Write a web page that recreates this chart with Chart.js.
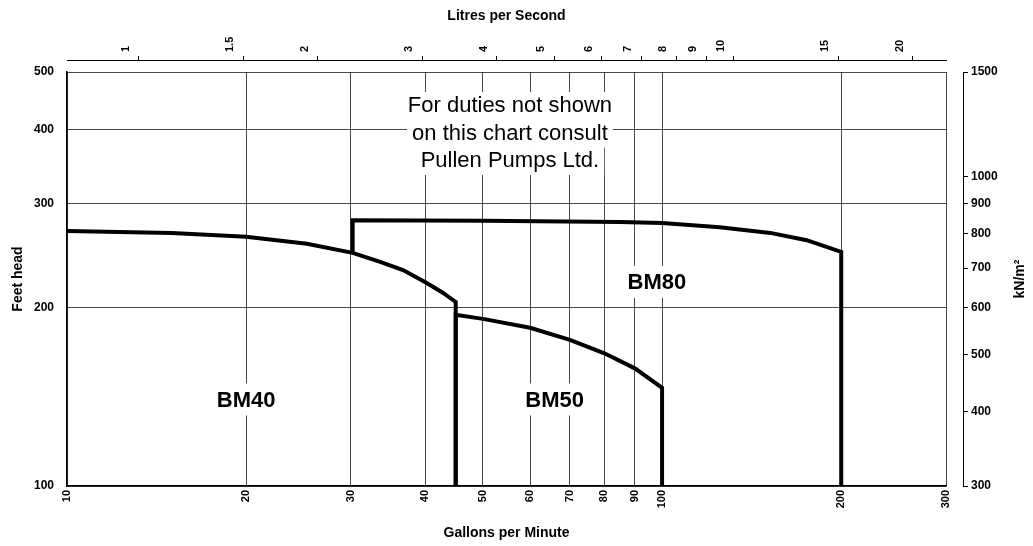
<!DOCTYPE html>
<html>
<head>
<meta charset="utf-8">
<script src="https://cdn.jsdelivr.net/npm/chart.js@4.4.1/dist/chart.umd.min.js"></script>
<style>
  body { margin: 0; background: #fff; }
  canvas { display: block; }
</style>
</head>
<body>
<canvas id="pumpChart" width="1033" height="546"></canvas>
<script>
// pump curves: flow in gallons per minute, head in feet
const bm40Gpm = [10, 15, 20, 25.3, 30.2, 33.6, 36.7, 40.3, 42.8, 45, 45];
const bm40Head = [269.5, 267.5, 263.5, 256.5, 247.5, 239, 231.5, 220, 212, 204.5, 100];
const bm50Gpm = [45, 45, 50, 60, 70, 80, 90, 100, 100];
const bm50Head = [100, 194.5, 191.5, 185, 176.5, 167.5, 158, 146.5, 100];
const bm80Gpm = [30.2, 30.2, 50, 85, 100, 125, 152, 175, 200, 200];
const bm80Head = [247.5, 281, 280.5, 279, 278, 273.5, 267.5, 260, 248.5, 100];

// tick labels of the four axes
const gpmTicks = [10, 20, 30, 40, 50, 60, 70, 80, 90, 100, 200, 300];
const headTicks = [100, 200, 300, 400, 500];
const litreTicks = [1, 1.5, 2, 3, 4, 5, 6, 7, 8, 9, 10, 15, 20];
const kpaTicks = [300, 400, 500, 600, 700, 800, 900, 1000, 1500];

// texts written on the chart
const pumpNames = ['BM40', 'BM50', 'BM80'];
const nameGpm = [20, 66, 98];
const nameHead = [140, 140, 221];
const noteLines = ['For duties not shown', 'on this chart consult', 'Pullen Pumps Ltd.'];

const LPS_PER_GPM = 0.0757682;
const KPA_PER_FT = 3;
const FONT = '"Liberation Sans", Arial, Helvetica, sans-serif';

Chart.defaults.font.family = FONT;
Chart.defaults.color = '#000';

function toPoints(xs, ys) {
  return xs.map((v, i) => ({ x: v, y: ys[i] }));
}

function curve(name, xs, ys) {
  return {
    label: name,
    data: toPoints(xs, ys),
    borderColor: '#000',
    borderWidth: 4,
    pointRadius: 0,
    tension: 0,
    fill: false,
    borderJoinStyle: 'miter',
    clip: false
  };
}

function fixTicks(list) {
  return scale => { scale.ticks = list.map(v => ({ value: v })); };
}

const gridColor = 'rgba(0, 0, 0, 0.72)';

//textos escritos por cima da grelha (com fundo branco) e titulo do eixo direito
const textPlugin = {
  id: 'chartText',
  beforeDatasetsDraw(chart) {
    const ctx = chart.ctx;
    const xs = chart.scales.x;
    const ys = chart.scales.y;
    ctx.save();
    ctx.textAlign = 'center';
    ctx.textBaseline = 'middle';

    ctx.font = '22px ' + FONT;
    const nx = xs.getPixelForValue(55.5);
    const ny = ys.getPixelForValue(438);
    noteLines.forEach((t, i) => {
      const w = ctx.measureText(t).width;
      const cy = ny + i * 27.5;
      ctx.fillStyle = '#fff';
      ctx.fillRect(nx - w / 2 - 5, cy - 14, w + 10, 28);
      ctx.fillStyle = '#000';
      ctx.fillText(t, nx, cy);
    });

    ctx.font = 'bold 22px ' + FONT;
    pumpNames.forEach((t, i) => {
      const px = xs.getPixelForValue(nameGpm[i]);
      const py = ys.getPixelForValue(nameHead[i]);
      const w = ctx.measureText(t).width;
      ctx.fillStyle = '#fff';
      ctx.fillRect(px - w / 2 - 6, py - 16, w + 12, 32);
      ctx.fillStyle = '#000';
      ctx.fillText(t, px, py + 1);
    });
    ctx.restore();
  },
  afterDraw(chart) {
    const ctx = chart.ctx;
    const area = chart.chartArea;
    ctx.save();
    ctx.translate(1020, (area.top + area.bottom) / 2);
    ctx.rotate(-Math.PI / 2);
    ctx.textAlign = 'center';
    ctx.textBaseline = 'middle';
    ctx.fillStyle = '#000';
    ctx.font = 'bold 14px ' + FONT;
    ctx.fillText('kN/m²', 0, 0);
    ctx.restore();
  }
};

const ctx = document.getElementById('pumpChart').getContext('2d');
const pumpChart = new Chart(ctx, {
  type: 'line',
  data: {
    datasets: [
      curve('BM40', bm40Gpm, bm40Head),
      curve('BM50', bm50Gpm, bm50Head),
      curve('BM80', bm80Gpm, bm80Head)
    ]
  },
  plugins: [textPlugin],
  options: {
    responsive: false,
    animation: false,
    layout: { padding: 0 },
    plugins: {
      legend: { display: false },
      tooltip: { enabled: false }
    },
    scales: {
      x: {
        type: 'logarithmic',
        position: 'bottom',
        min: 10,
        max: 300,
        afterBuildTicks: fixTicks(gpmTicks),
        afterFit: s => { s.height = 60; },
        grid: { color: gridColor, lineWidth: 1, drawTicks: false },
        border: { color: '#000', width: 1.5 },
        ticks: {
          autoSkip: false,
          minRotation: 90,
          maxRotation: 90,
          padding: 4,
          font: { size: 11, weight: 'bold' },
          callback: v => String(v)
        },
        title: {
          display: true,
          text: 'Gallons per Minute',
          font: { size: 14, weight: 'bold' },
          padding: { top: 0, bottom: 4 }
        }
      },
      y: {
        type: 'logarithmic',
        position: 'left',
        min: 100,
        max: 500,
        afterBuildTicks: fixTicks(headTicks),
        afterFit: s => { s.width = 67; },
        grid: { color: gridColor, lineWidth: 1, drawTicks: false },
        border: { color: '#000', width: 1.5 },
        ticks: {
          autoSkip: false,
          padding: 13,
          font: { size: 12, weight: 'bold' },
          callback: v => String(v)
        },
        title: {
          display: true,
          text: 'Feet head',
          font: { size: 14, weight: 'bold' },
          padding: { top: 10, bottom: 0 }
        }
      },
      gapTop: {
        type: 'linear',
        position: 'top',
        weight: 0,
        afterFit: s => { s.height = 12; },
        grid: { display: false },
        border: { display: false },
        ticks: { display: false }
      },
      x2: {
        type: 'logarithmic',
        position: 'top',
        weight: 1,
        min: 10 * LPS_PER_GPM,
        max: 300 * LPS_PER_GPM,
        afterBuildTicks: fixTicks(litreTicks),
        afterFit: s => { s.height = 60; },
        grid: { drawOnChartArea: false, drawTicks: true, tickLength: 4, color: '#000' },
        border: { color: '#000', width: 1 },
        ticks: {
          autoSkip: false,
          minRotation: 90,
          maxRotation: 90,
          padding: 4,
          font: { size: 11, weight: 'bold' },
          callback: v => String(v)
        },
        title: {
          display: true,
          text: 'Litres per Second',
          font: { size: 14, weight: 'bold' },
          padding: { top: 8, bottom: 0 }
        }
      },
      gapRight: {
        type: 'linear',
        position: 'right',
        weight: 0,
        afterFit: s => { s.width = 17; },
        grid: { display: false },
        border: { display: false },
        ticks: { display: false }
      },
      y2: {
        type: 'logarithmic',
        position: 'right',
        weight: 1,
        min: 100 * KPA_PER_FT,
        max: 500 * KPA_PER_FT,
        afterBuildTicks: fixTicks(kpaTicks),
        afterFit: s => { s.width = 70; },
        grid: { drawOnChartArea: false, drawTicks: true, tickLength: 5, color: '#000' },
        border: { color: '#000', width: 1 },
        ticks: {
          autoSkip: false,
          padding: 3,
          font: { size: 12, weight: 'bold' },
          callback: v => String(v)
        }
      }
    }
  }
});
</script>
</body>
</html>
